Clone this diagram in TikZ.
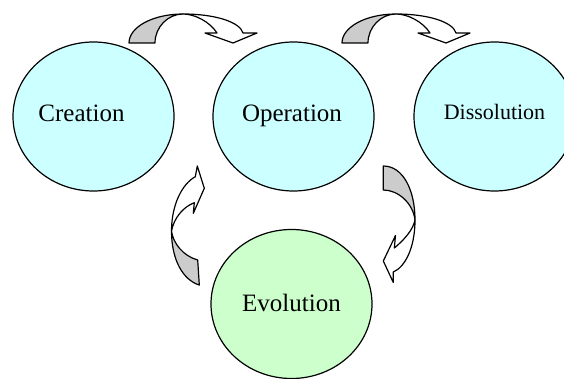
\documentclass[tikz,border=0pt]{standalone}
\usepackage{fontspec}
\setmainfont{Liberation Serif}
\usetikzlibrary{shapes.geometric}
\definecolor{stagecyan}{RGB}{204,255,255}
\definecolor{stagegreen}{RGB}{204,255,204}
\definecolor{ribbongray}{RGB}{204,204,204}

\tikzset{
  stage/.style={ellipse, draw, line width=1.2pt, inner sep=0pt,
    minimum width=161pt, minimum height=149pt},
  stagetext/.style={anchor=base, inner sep=0pt, font=\fontsize{25}{30}\selectfont},
  ribbonback/.style={draw, line width=1.2pt, line join=round, fill=ribbongray},
  ribbonfront/.style={draw, line width=1.2pt, line join=round, fill=white},
  % curved arrow bending over the top, head pointing down on the right
  overarrow/.pic={
    \path[ribbonback] (129,43) .. controls (129,27) and (153,14) .. (183,14)
      .. controls (168,14) and (155,27) .. (155,43) -- cycle;
    \path[ribbonfront] (183,14) .. controls (215,14) and (240,22) .. (243,33)
      -- (257,33) -- (233,43) -- (205,33) -- (217,33)
      .. controls (210,22) and (195,14) .. (183,14) -- cycle;
  }
}

\begin{document}
\begin{tikzpicture}[x=1pt,y=-1pt]
\useasboundingbox (0,0) rectangle (564,379);

% the four stages
\node[stage, fill=stagecyan]  (cre) at (93.5,116.5) {};
\node[stage, fill=stagecyan]  (ope) at (293.5,116.5) {};
\node[stage, fill=stagecyan]  (dis) at (494.5,116.5) {};
\node[stage, fill=stagegreen] (evo) at (291.5,304) {};

\node[stagetext] (creT) at (81.5,122) {Creation};
\node[stagetext] (opeT) at (292,122) {Operation};
\node[stagetext, font=\fontsize{22}{26}\selectfont] (disT) at (494.5,120) {Dissolution};
\node[stagetext] (evoT) at (291.5,311) {Evolution};

% arrows along the top
\pic at (0,0) {overarrow};
\pic at (213,0) {overarrow};

% left arrow: from Evolution up towards Operation
\path[ribbonback] (199.3,285) .. controls (183,280) and (171.5,260) .. (171.5,231)
  .. controls (173,243) and (183,256) .. (197.7,260) -- cycle;
\path[ribbonfront] (171.5,231) .. controls (171.5,205) and (182,184) .. (195.3,176.7)
  -- (197.3,166) -- (204.3,188.3) -- (193.3,213.3) -- (194.3,202.7)
  .. controls (183,207) and (174,218) .. (171.5,231) -- cycle;

% right arrow: from Operation down towards Evolution
\path[ribbonback] (383.3,166) .. controls (403,166) and (415,190) .. (415,220)
  .. controls (413,203) and (398,190) .. (383.3,190) -- cycle;
\path[ribbonfront] (415,220) .. controls (415,248) and (405,267) .. (393.3,272)
  -- (393.3,282.5) -- (383.3,261) -- (395.5,235.5) -- (394.3,248)
  .. controls (404,240) and (413,230) .. (415,220) -- cycle;
\end{tikzpicture}
\end{document}
